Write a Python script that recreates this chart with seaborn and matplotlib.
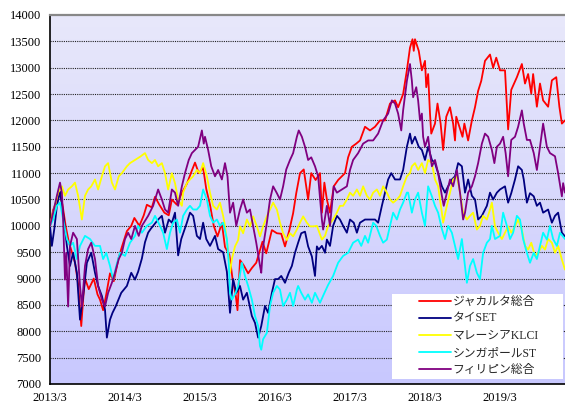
import numpy as np
import pandas as pd
import seaborn as sns
import matplotlib
matplotlib.use("Agg")
import matplotlib.pyplot as plt
from matplotlib.lines import Line2D
from matplotlib.patches import Rectangle

sns.set_style("white")
plt.rcParams['font.family'] = ['Liberation Serif', 'Noto Sans CJK JP', 'DejaVu Sans']

# ---- data (month offsets from 2013/3, index values) ----
series_names = ["ジャカルタ総合", "タイSET", "マレーシアKLCI", "シンガポールST", "フィリピン総合"]
series_colors = ["#FF0000", "#000080", "#FFFF00", "#00FFFF", "#800080"]
x_tick_labels = ["2013/3", "2014/3", "2015/3", "2016/3", "2017/3", "2018/3", "2019/3"]
y_ticks = list(range(7000, 14001, 500))

red = [(0,10000),(0.5,10300),(1.0,10450),(1.5,10650),(2.0,10400),(2.5,10000),(3.0,9700),(3.5,9500),(4.0,9300),(4.5,8900),(5.0,8100),(5.3,8600),(5.6,9000),(6.2,8800),(7.0,9000),(7.6,8700),(8.0,8600),(8.5,8400),(9.0,8700),(9.6,9100),(10.2,8950),(11.0,9400),(11.5,9600),(12.3,9900),(13.0,10000),(13.5,10150),(14.3,10000),(15.0,10200),(15.5,10400),(16.3,10350),(16.8,10550),(17.5,10400),(18.3,10250),(19.0,10200),(19.5,10500),(20.3,10400),(21.0,10600),(21.9,10800),(22.7,11050),(23.2,11200),(23.8,11000),(24.5,11100),(25.0,10700),(25.6,10400),(26.2,10000),(26.8,9800),(27.5,10050),(28.0,9600),(28.7,9450),(29.2,9000),(29.7,8700),(30.0,8400),(30.4,9350),(31.0,9250),(31.7,9100),(32.3,9200),(33.0,9300),(34.0,9700),(34.6,9480),(35.5,9920),(36.3,9860),(37.0,9850),(37.6,9610),(38.3,9920),(38.9,10240),(39.4,10620),(40.0,11000),(40.6,11070),(41.3,10500),(41.8,11000),(42.5,10870),(43.2,11000),(43.5,10250),(43.9,10820),(44.3,10500),(44.8,10250),(45.4,10750),(46.1,10870),(47.2,11000),(47.7,11300),(48.3,11500),(49.0,11560),(49.6,11620),(50.4,11880),(51.2,11810),(52.0,11880),(52.8,12000),(53.6,12000),(54.4,12320),(55.2,12380),(55.7,12250),(56.5,12500),(57.1,12950),(57.6,13380),(58.0,13540),(58.2,13320),(58.4,13540),(59.0,13320),(59.5,12950),(60.0,13130),(60.2,12630),(60.5,12880),(60.8,12130),(61.0,11750),(61.6,11940),(62.0,12320),(62.5,11940),(62.9,11440),(63.4,12070),(64.0,12250),(64.5,11940),(64.8,11620),(65.0,12070),(65.5,11880),(66.0,11690),(66.3,11940),(66.9,11620),(67.5,12000),(68.0,12250),(68.5,12560),(69.0,12750),(69.6,13130),(70.4,13250),(70.9,13000),(71.4,13190),(72.0,12950),(72.8,12950),(73.3,11830),(73.8,12580),(74.7,12820),(75.5,13070),(76.0,12700),(76.5,12880),(77.0,12510),(77.3,12880),(77.9,12260),(78.4,12700),(78.9,12380),(79.7,12260),(80.3,12760),(81.0,12820),(81.5,12260),(81.9,11940),(82.4,12000)]

navy = [(0,10000),(0.3,9620),(0.7,9950),(1.1,10380),(1.6,10650),(2.1,10250),(2.7,9620),(3.2,9240),(3.7,9490),(4.3,9110),(4.8,8220),(5.3,8670),(5.9,9300),(6.6,9490),(7.2,9110),(7.7,8860),(8.3,8670),(8.8,8410),(9.1,7880),(9.6,8220),(10.0,8350),(10.5,8470),(11.4,8730),(12.3,8860),(13.0,9110),(13.6,8980),(14.1,9130),(14.7,9380),(15.2,9690),(15.7,9870),(16.1,9940),(16.5,10000),(17.3,10120),(17.9,10190),(18.4,9870),(19.0,10120),(19.5,10060),(20.0,10250),(20.5,9440),(21.0,9750),(21.9,10060),(22.4,10250),(22.9,10190),(23.5,9810),(24.0,9750),(24.5,10060),(25.0,9750),(25.6,9620),(26.4,9810),(26.9,9560),(27.7,9500),(28.3,9130),(28.8,8350),(29.3,8990),(29.8,8730),(30.4,8860),(30.9,8600),(31.5,8730),(32.3,8290),(32.8,8160),(33.3,7880),(33.8,8100),(34.4,8480),(34.9,8350),(35.5,8730),(36.0,8990),(36.5,8990),(37.0,9050),(37.6,8920),(38.2,9110),(38.7,9240),(39.2,9490),(39.7,9680),(40.2,9860),(40.8,9890),(41.3,9610),(41.9,9420),(42.4,9050),(42.7,9610),(43.0,9550),(43.5,9620),(44.0,9490),(44.3,9740),(44.8,9620),(45.3,10000),(45.9,10190),(46.4,10120),(46.9,10000),(47.5,9870),(48.0,10120),(48.6,10060),(49.1,9870),(49.6,10060),(50.4,10120),(51.2,10120),(52.0,10120),(52.5,10060),(53.1,10380),(53.6,10630),(54.1,10880),(54.6,11000),(55.2,10880),(56.0,10880),(56.5,11060),(57.1,11500),(57.6,11750),(57.9,11560),(58.4,11690),(59.0,11500),(59.5,11440),(60.0,11250),(60.5,11500),(61.1,11250),(61.6,11190),(62.1,11000),(62.7,10750),(63.2,10630),(63.7,10750),(64.3,10880),(64.8,10940),(65.3,11190),(65.9,11130),(66.4,10630),(66.9,10880),(67.5,10570),(68.0,10500),(68.5,10120),(69.1,10190),(69.9,10380),(70.4,10630),(70.9,10500),(71.5,10630),(72.0,10690),(72.8,10750),(73.3,10440),(73.8,10620),(74.4,10880),(74.9,11130),(75.5,11060),(75.8,10880),(76.3,10440),(76.8,10620),(77.4,10560),(77.9,10380),(78.4,10440),(78.9,10250),(79.7,10310),(80.3,10060),(80.8,10190),(81.3,10250),(81.9,9870),(82.4,9800)]

yellow = [(0,10000),(0.5,10250),(1.3,10630),(1.9,10750),(2.4,10570),(2.9,10690),(3.5,10750),(4.0,10820),(4.5,10570),(5.1,10120),(5.6,10570),(6.1,10690),(6.6,10750),(7.2,10880),(7.7,10690),(8.3,10940),(8.8,11130),(9.3,11190),(9.9,10820),(10.4,10690),(11.0,10940),(11.5,11000),(12.3,11130),(12.8,11190),(13.6,11250),(14.4,11310),(15.2,11380),(15.7,11250),(16.3,11190),(16.8,11250),(17.3,11130),(17.9,11190),(18.4,11000),(18.9,10690),(19.5,11000),(20.0,10810),(20.5,10500),(21.1,10380),(21.3,10630),(21.9,10810),(22.4,10880),(22.9,10940),(23.5,11060),(24.0,11000),(24.5,11190),(25.1,10940),(25.6,10630),(26.1,10380),(26.7,10310),(27.2,10440),(27.7,10190),(28.0,10000),(28.4,9630),(28.6,9370),(28.8,9110),(29.1,9370),(29.6,9610),(30.1,9730),(30.4,9990),(30.9,9860),(31.5,10120),(32.0,9990),(32.5,10180),(33.1,9990),(33.6,9800),(34.1,9990),(34.7,10180),(35.2,10310),(35.7,10440),(36.3,10310),(36.8,10060),(37.3,9860),(37.9,9730),(38.4,9860),(38.9,9800),(39.5,9930),(40.0,10060),(40.5,10180),(41.1,10060),(41.6,9990),(42.1,9990),(42.7,10000),(43.5,9740),(44.0,9810),(44.5,10000),(45.3,10120),(45.9,10250),(46.4,10380),(46.9,10380),(47.5,10500),(48.0,10630),(48.5,10570),(49.1,10690),(49.6,10570),(50.1,10750),(50.7,10570),(51.2,10500),(51.7,10630),(52.3,10690),(52.8,10570),(53.3,10750),(53.9,10630),(54.4,10500),(54.9,10440),(55.5,10500),(56.0,10570),(56.5,10750),(57.1,10940),(57.6,11000),(57.9,11130),(58.4,11190),(58.9,11060),(59.5,11190),(60.0,11000),(60.5,11250),(61.1,11190),(61.6,10880),(62.1,10750),(62.7,10250),(62.9,10060),(63.5,10380),(64.0,10630),(64.5,10880),(65.1,10940),(65.6,10630),(66.1,10250),(66.7,10120),(67.2,10190),(67.7,10250),(68.3,9930),(68.8,10000),(69.3,10190),(69.9,10120),(70.4,10310),(70.7,10440),(71.2,9990),(71.7,9870),(72.3,9750),(72.8,9870),(73.3,9990),(73.8,9870),(74.4,9990),(74.9,10120),(75.5,9930),(76.0,9620),(76.5,9550),(77.0,9680),(77.6,9430),(78.1,9490),(78.7,9620),(79.2,9550),(79.7,9750),(80.3,9680),(80.8,9490),(81.3,9620),(81.9,9360),(82.4,9170)]

cyan = [(0,10000),(0.5,10120),(1.1,10380),(1.6,10440),(2.1,10120),(2.7,9750),(3.2,9620),(3.7,9680),(4.3,9370),(4.8,9620),(5.6,9810),(6.4,9750),(7.2,9620),(8.0,9620),(8.5,9370),(9.0,9490),(9.6,9240),(10.1,8980),(10.6,9240),(11.2,9490),(12.0,9430),(12.8,9680),(13.6,9810),(14.1,10000),(14.7,9870),(15.5,10000),(16.3,10060),(16.8,10190),(17.6,10000),(18.1,9870),(18.7,9560),(19.2,9870),(19.7,10060),(20.3,10120),(20.8,9870),(21.3,10190),(21.9,10310),(22.4,10380),(22.9,10310),(23.5,10310),(24.0,10380),(24.5,10690),(25.1,10500),(25.6,10190),(26.1,10060),(26.7,10120),(27.2,10000),(27.7,10060),(28.3,9750),(28.6,9300),(28.8,8730),(29.1,8600),(29.6,8700),(30.1,8860),(30.7,9300),(31.2,9050),(31.7,8860),(32.3,8600),(32.8,8290),(33.3,8100),(33.6,7720),(33.8,7650),(34.1,7850),(34.7,7970),(35.2,8480),(35.7,8730),(36.3,8860),(36.8,8790),(37.3,8480),(37.9,8600),(38.4,8730),(38.9,8480),(39.5,8790),(39.7,8860),(40.2,8730),(40.8,8600),(41.3,8700),(41.9,8540),(42.4,8730),(43.2,8540),(43.8,8700),(44.5,8880),(45.3,9050),(46.1,9300),(46.9,9430),(47.7,9490),(48.5,9680),(49.3,9740),(49.8,9620),(50.4,9810),(50.9,9680),(51.7,10060),(52.2,10000),(52.8,9810),(53.3,9680),(53.9,9740),(54.4,10000),(54.9,10250),(55.5,10120),(56.0,10310),(56.5,10440),(57.1,10630),(57.3,10630),(57.9,10250),(58.4,10500),(58.9,10630),(59.5,10250),(60.0,10000),(60.5,10750),(61.1,10560),(61.6,10380),(62.1,10250),(62.7,9940),(63.2,9750),(63.7,10000),(64.3,9870),(64.8,9620),(65.3,9370),(65.9,9750),(66.4,9240),(66.7,8920),(67.2,9240),(67.7,9370),(68.3,9110),(68.8,8990),(69.3,9490),(69.9,9680),(70.4,9750),(70.7,10000),(71.2,9750),(72.0,9810),(72.5,10250),(73.1,10000),(73.6,9750),(74.1,9870),(74.7,10190),(75.2,10120),(75.7,9750),(76.3,9490),(76.8,9300),(77.4,9490),(77.9,9370),(78.4,9620),(78.9,9870),(79.5,9740),(80.0,10000),(80.5,9750),(81.1,9620),(81.6,9870),(82.4,9750)]

purple = [(0,10000),(0.5,10250),(1.1,10570),(1.6,10820),(1.9,10630),(2.1,10120),(2.4,8980),(2.6,9490),(2.9,8470),(3.2,9620),(3.7,9870),(4.3,9750),(4.8,8860),(5.1,8470),(5.6,9240),(6.1,9560),(6.6,9680),(7.2,9370),(7.7,8860),(8.3,8600),(8.8,8470),(9.3,8730),(9.9,8920),(10.4,9110),(11.0,9370),(11.5,9490),(12.0,9750),(12.5,9870),(13.0,9750),(13.6,10000),(14.2,9810),(14.7,10000),(15.7,10190),(16.5,10380),(17.3,10690),(17.9,10500),(18.4,10310),(18.9,10250),(19.5,10690),(20.0,10630),(20.5,10380),(21.1,10750),(21.6,11000),(22.2,11250),(22.7,11380),(23.2,11440),(23.7,11500),(24.3,11810),(24.6,11560),(24.8,11690),(25.3,11440),(25.8,11130),(26.4,10940),(26.9,11060),(27.5,10880),(28.0,11190),(28.4,10940),(28.8,10250),(29.3,10440),(29.8,10000),(30.4,10310),(30.9,10500),(31.5,10250),(32.0,10310),(32.5,10000),(33.0,9680),(33.6,9240),(33.8,9110),(34.1,9610),(34.7,10060),(35.2,10500),(35.7,10750),(36.3,10620),(36.8,10500),(37.3,10750),(37.8,11070),(38.4,11250),(38.9,11380),(39.5,11690),(39.8,11810),(40.3,11690),(40.8,11500),(41.3,11250),(41.8,11300),(42.4,11130),(42.9,10940),(43.5,10120),(43.7,9930),(44.3,10380),(44.8,10000),(45.4,10750),(45.9,10630),(46.7,10690),(47.5,10750),(48.0,11060),(48.5,11250),(49.3,11380),(50.1,11560),(50.9,11620),(51.7,11620),(52.5,11750),(53.3,12000),(54.1,12130),(54.7,12380),(55.2,12320),(55.7,12130),(56.2,11810),(56.5,12190),(57.1,12750),(57.6,13070),(57.9,12750),(58.1,12440),(58.6,12630),(58.9,12380),(59.2,12000),(59.5,12130),(59.7,11690),(60.0,11500),(60.5,11690),(60.8,11380),(61.1,11130),(61.6,11250),(62.1,11000),(62.7,10570),(63.0,10380),(63.5,10630),(64.0,10880),(64.5,10750),(65.1,11060),(65.6,10630),(66.1,10120),(66.4,10250),(66.9,10630),(67.5,10750),(68.0,10940),(68.5,11190),(69.1,11560),(69.6,11750),(70.1,11690),(70.7,11440),(71.1,11190),(71.5,11500),(72.0,11560),(72.5,11690),(72.9,11380),(73.3,10940),(73.8,11630),(74.4,11690),(74.9,11880),(75.5,12190),(75.8,11940),(76.3,11630),(76.8,11630),(77.4,11380),(77.9,11060),(78.4,11500),(78.9,11940),(79.5,11500),(80.0,11380),(80.8,11320),(81.3,11000),(81.9,10560),(82.1,10810),(82.4,10630)]

all_series = [red, navy, yellow, cyan, purple]

# ---- long-form table ----
rows = []
for name, pts in zip(series_names, all_series):
    for m, v in pts:
        rows.append({"month": m, "value": v, "series": name})
df = pd.DataFrame(rows)

# ---- figure ----
W, H = 565, 403
fig = plt.figure(figsize=(W / 100, H / 100), dpi=100)
fig.patch.set_facecolor("white")
ax = fig.add_axes([50 / W, (H - 384) / H, (565 - 50) / W, (384 - 15) / H])

# gradient background
grad = np.linspace(0, 1, 256).reshape(-1, 1)
top_c = np.array([232, 232, 250]) / 255
bot_c = np.array([200, 200, 255]) / 255
img = top_c[None, None, :] * (1 - grad[:, :, None]) + bot_c[None, None, :] * grad[:, :, None]
ax.imshow(img, extent=[0, 1, 0, 1], transform=ax.transAxes, aspect="auto", zorder=0)

sns.lineplot(data=df, x="month", y="value", hue="series", hue_order=series_names,
             palette=series_colors, estimator=None, sort=False, linewidth=1.3,
             legend=False, ax=ax, zorder=3)

ax.set_xlim(0, 82.4)
ax.set_ylim(7000, 14000)
ax.set_yticks(y_ticks)
ax.set_yticklabels([str(v) for v in y_ticks], fontsize=9)
ax.set_xticks([12 * i for i in range(len(x_tick_labels))])
ax.set_xticklabels(x_tick_labels, fontsize=9)
ax.set_xlabel("")
ax.set_ylabel("")
ax.set_facecolor("none")

for yv in y_ticks[1:-1]:
    ax.axhline(yv, color="#222222", linestyle=(0, (1, 1)), linewidth=0.8, zorder=1)

ax.spines["left"].set_color("black")
ax.spines["left"].set_linewidth(1.2)
ax.spines["bottom"].set_color("black")
ax.spines["bottom"].set_linewidth(1.2)
ax.spines["top"].set_color("#888888")
ax.spines["top"].set_linewidth(1.6)
ax.spines["right"].set_visible(False)
ax.tick_params(axis="x", direction="in", length=4, width=0.8, pad=6, colors="black")
ax.tick_params(axis="y", direction="in", length=0, pad=6, colors="black")

# legend box (white, no border) and legend contents
ax.add_patch(Rectangle(((392 - 50) / 515, (384 - 379) / 369), 171 / 515, 85 / 369,
                       transform=ax.transAxes, facecolor="white", edgecolor="none",
                       zorder=4))
handles = [Line2D([0], [0], color=c, lw=1.3) for c in series_colors]
leg = ax.legend(handles, series_names, loc="upper left",
                bbox_to_anchor=((419 - 50) / 515, (384 - 296) / 369),
                frameon=False, fontsize=8.5, handlelength=2.7, handletextpad=0.15,
                labelspacing=0.42, borderpad=0, borderaxespad=0)
leg.set_zorder(5)
for t in leg.get_texts():
    t.set_family(['Liberation Serif', 'Noto Sans CJK JP'])

fig.savefig("out.png", dpi=100, facecolor="white")
